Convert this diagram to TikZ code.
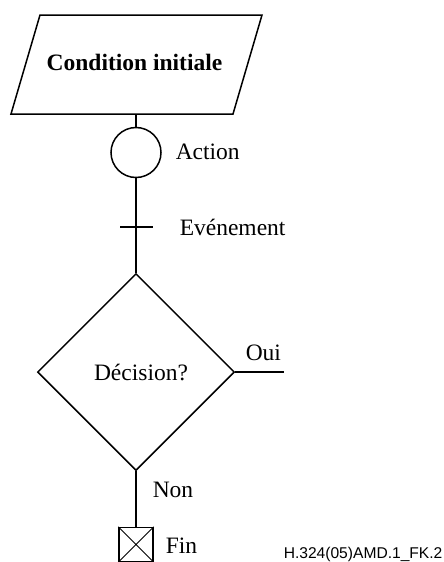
\documentclass[tikz,border=0pt]{standalone}
\usepackage{fontspec}
\setmainfont{Liberation Serif}
\newfontfamily\labelsans{Liberation Sans}
\usetikzlibrary{shapes.geometric}
\begin{document}
\begin{tikzpicture}[x=1pt,y=-1pt,
  line width=1.5pt,
  lbl/.style={font=\fontsize{23.5}{26}\selectfont, inner sep=0pt, anchor=base west},
  circnode/.style={draw, circle, minimum size=50pt, inner sep=0pt},
  decnode/.style={draw, diamond, minimum width=197pt, minimum height=197pt, inner sep=0pt},
  finbox/.style={draw, rectangle, minimum size=34pt, inner sep=0pt}]
\useasboundingbox (0,0) rectangle (444,562);
% parallelogram
\draw (40,15) -- (262,15) -- (233,114) -- (11,114) -- cycle;
\node[font=\bfseries\fontsize{23.5}{26}\selectfont, inner sep=0pt, anchor=base] (cond) at (134.5,70) {Condition initiale};
\coordinate (condbot) at (136,114);
\node[circnode] (act) at (136,152.5) {};
\node[lbl] (actlbl) at (175,159) {Action};
\coordinate (tick) at (136,227);
\coordinate (tickl) at (120,227);
\coordinate (tickr) at (153,227);
\node[lbl] (evlbl) at (179,235) {Evénement};
\node[decnode] (dec) at (136,372) {};
\node[font=\fontsize{23.5}{26}\selectfont, inner sep=0pt, anchor=base] (declbl) at (141,380) {Décision?};
\coordinate (ouiend) at (284,372);
\node[lbl] (oui) at (245,360) {Oui};
\node[lbl] (non) at (152,497) {Non};
\node[finbox] (fin) at (136,544.5) {};
\draw[line width=1pt] (fin.north west) -- (fin.south east) (fin.north east) -- (fin.south west);
\node[lbl] (finlbl) at (165,553) {Fin};
\node[font=\labelsans\fontsize{15.6}{18}\selectfont, inner sep=0pt, anchor=base west] (ref) at (283,558) {H.324(05)AMD.1\_FK.2};
% connectors
\draw (condbot) -- (act.north);
\draw (act.south) -- (dec.north);
\draw (tickl) -- (tickr);
\draw (dec.east) -- (ouiend);
\draw (dec.south) -- (fin.north);
\end{tikzpicture}
\end{document}
